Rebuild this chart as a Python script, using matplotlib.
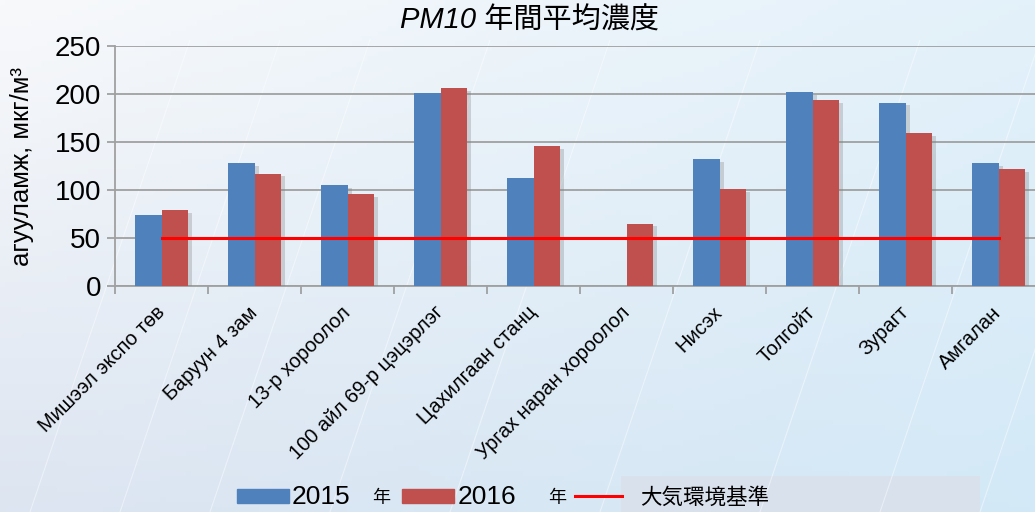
import matplotlib

matplotlib.use("Agg")
import matplotlib.pyplot as plt
import matplotlib.patheffects as pe
import numpy as np
from matplotlib.colors import to_rgb
from matplotlib.lines import Line2D
from matplotlib.patches import Rectangle

plt.rcParams["font.family"] = ["Liberation Sans", "Noto Sans CJK JP", "DejaVu Sans"]

stations = [
    "Мишээл экспо төв", "Баруун 4 зам", "13-р хороолол", "100 айл 69-р цэцэрлэг",
    "Цахилгаан станц", "Ургах наран хороолол", "Нисэх", "Толгойт", "Зурагт", "Амгалан",
]
pm10_2015 = [74, 128, 105, 201, 113, 0, 132, 202, 191, 128]
pm10_2016 = [79, 117, 96, 206, 146, 65, 101, 194, 159, 122]
standard = [50] * len(stations)
yticks = [0, 50, 100, 150, 200, 250]

BLUE = "#4F81BD"
RED = "#C0504D"
LINE_RED = "#FF0000"
GRID = "#A0A0A0"

W, H = 1035, 512
fig = plt.figure(figsize=(W / 100, H / 100), dpi=100)

# background gradient (slide decoration)
bg = fig.add_axes([0, 0, 1, 1], zorder=-10)
bg.set_xlim(0, W)
bg.set_ylim(H, 0)
bg.axis("off")
tl, tr = np.array(to_rgb("#f8f9fb")), np.array(to_rgb("#e3f1fa"))
bl, br = np.array(to_rgb("#dde5f1")), np.array(to_rgb("#d3e9f7"))
u = np.linspace(0, 1, 200)[None, :, None]
v = np.linspace(0, 1, 100)[:, None, None]
img = (1 - v) * ((1 - u) * tl + u * tr) + v * ((1 - u) * bl + u * br)
bg.imshow(img, extent=(0, W, H, 0), aspect="auto")
for x0 in [30, 120, 210, 330, 450, 600, 760, 880, 980]:
    bg.plot([x0, x0 + 160], [H, 40], color="white", lw=0.8, alpha=0.45)
bg.add_patch(Rectangle((621, 476), 359, 40, facecolor="#d9e1ec", edgecolor="none"))

ax = fig.add_axes([115 / W, 1 - 286 / H, 930 / W, 240 / H])
ax.patch.set_alpha(0)
x = np.arange(len(stations))
bw = 0.285
shadow = [pe.SimplePatchShadow(offset=(3, -2), shadow_rgbFace="#808080", alpha=0.3), pe.Normal()]
b1 = ax.bar(x - bw / 2, pm10_2015, bw, color=BLUE, zorder=3, path_effects=shadow)
b2 = ax.bar(x + bw / 2, pm10_2016, bw, color=RED, zorder=3, path_effects=shadow)
ln, = ax.plot(x, standard, color=LINE_RED, lw=2.2, zorder=4)

ax.set_xlim(-0.5, len(stations) - 0.5)
ax.set_ylim(0, 250)
ax.set_yticks(yticks)
ax.grid(axis="y", color=GRID, lw=1.3, zorder=0)
ax.set_axisbelow(True)
for s in ["top", "right"]:
    ax.spines[s].set_visible(False)
for s in ["left", "bottom"]:
    ax.spines[s].set_color(GRID)
    ax.spines[s].set_linewidth(1.3)
ax.tick_params(axis="y", length=6, width=1.3, color=GRID, labelsize=20, pad=4)

ax.set_xticks(x)
ax.set_xticks(np.arange(-0.5, len(stations), 1), minor=True)
ax.tick_params(axis="x", which="major", length=0, pad=17)
ax.tick_params(axis="x", which="minor", length=6, width=1.3, color=GRID)
ax.set_xticklabels(stations, rotation=45, ha="right", va="center",
                   rotation_mode="anchor", fontsize=14.5)

ax.set_ylabel("агууламж, мкг/м³", fontsize=18.5)
ax.yaxis.set_label_coords(-0.087, 0.5)

fig.text(530 / W, 1 - 21 / H, "PM10 年間平均濃度", ha="center", va="center",
         fontsize=21, style="italic")

# legend, laid out by hand in pixel positions like the original slide
def fy(py):
    return 1 - py / H

fig.patches.append(Rectangle((237 / W, fy(503)), 52 / W, 14 / H, color=BLUE,
                             transform=fig.transFigure))
fig.patches.append(Rectangle((402 / W, fy(503)), 52 / W, 14 / H, color=RED,
                             transform=fig.transFigure))
fig.lines.append(Line2D([575 / W, 622 / W], [fy(496), fy(496)], color=LINE_RED, lw=2.2,
                        transform=fig.transFigure))
fig.text(292 / W, fy(497), "2015", fontsize=19, ha="left", va="center")
fig.text(372 / W, fy(499), "年", fontsize=13, ha="left", va="center")
fig.text(458 / W, fy(497), "2016", fontsize=19, ha="left", va="center")
fig.text(548 / W, fy(499), "年", fontsize=13, ha="left", va="center")
fig.text(640 / W, fy(498), "大気環境基準", fontsize=15.5, ha="left", va="center")

fig.savefig("out.png", dpi=100)
